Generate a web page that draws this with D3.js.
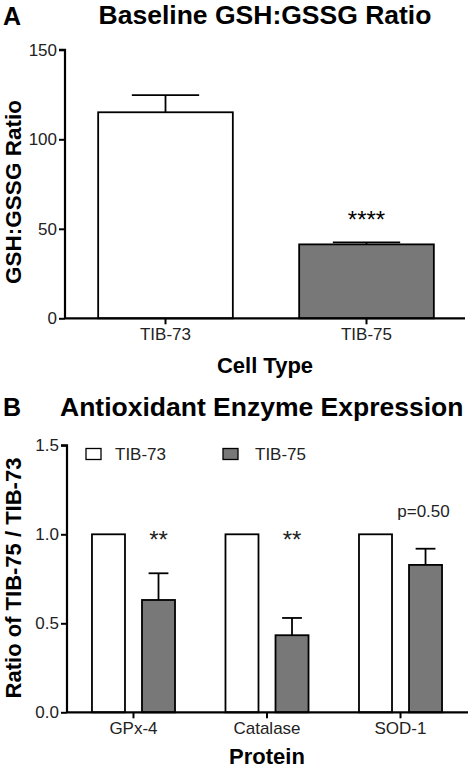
<!DOCTYPE html>
<html><head><meta charset="utf-8">
<script src="https://cdn.jsdelivr.net/npm/d3@7"></script>
<style>html,body{margin:0;padding:0;background:#fff;}svg{display:block;font-family:"Liberation Sans",Arial,sans-serif;}</style>
</head><body>
<script>
// Panel A data
const cellTypes = ["TIB-73", "TIB-75"];
const ratioMeans = [115.1, 41.3];
const ratioErrors = [9.6, 1.1];
const ratioSig = ["", "****"];
const ratioTicks = [0, 50, 100, 150];

// Panel B data
const proteins = ["GPx-4", "Catalase", "SOD-1"];
const groups = ["TIB-73", "TIB-75"];
const tib73Values = [1.0, 1.0, 1.0];
const tib75Values = [0.631, 0.433, 0.828];
const tib75Errors = [0.15, 0.097, 0.091];
const enzymeSig = ["**", "**", "p=0.50"];
const enzymeTicks = [0, 0.5, 1.0, 1.5];

const W = 476, H = 771;
const colors = {"TIB-73": "#ffffff", "TIB-75": "#787878"};
const svg = d3.select("body").append("svg").attr("width", W).attr("height", H);

// ---------- Panel A ----------
const xA = d3.scaleBand().domain(cellTypes).range([65, 467]).paddingInner(0.33).paddingOuter(0.165);
const yA = d3.scaleLinear().domain([0, 150]).range([318.3, 49.8]);
const gA = svg.append("g");

gA.append("text").attr("x", 3).attr("y", 25).attr("font-size", 25).attr("font-weight", "bold").text("A");
gA.append("text").attr("x", 265).attr("y", 24).attr("text-anchor", "middle").attr("font-size", 26.5).attr("font-weight", "bold").text("Baseline GSH:GSSG Ratio");

const dataA = cellTypes.map((c, i) => ({c, v: ratioMeans[i], e: ratioErrors[i], s: ratioSig[i]}));
gA.selectAll("rect.bar").data(dataA).join("rect").attr("class", "bar")
  .attr("x", d => xA(d.c)).attr("width", xA.bandwidth())
  .attr("y", d => yA(d.v)).attr("height", d => yA(0) - yA(d.v))
  .attr("fill", d => colors[d.c]).attr("stroke", "#000").attr("stroke-width", 1.8);
gA.selectAll("line.err").data(dataA).join("line").attr("class", "err")
  .attr("x1", d => xA(d.c) + xA.bandwidth() / 2).attr("x2", d => xA(d.c) + xA.bandwidth() / 2)
  .attr("y1", d => yA(d.v)).attr("y2", d => yA(d.v + d.e)).attr("stroke", "#000").attr("stroke-width", 1.8);
gA.selectAll("line.cap").data(dataA).join("line").attr("class", "cap")
  .attr("x1", d => xA(d.c) + xA.bandwidth() * 0.25).attr("x2", d => xA(d.c) + xA.bandwidth() * 0.75)
  .attr("y1", d => yA(d.v + d.e)).attr("y2", d => yA(d.v + d.e)).attr("stroke", "#000").attr("stroke-width", 1.8);
gA.selectAll("text.sig").data(dataA).join("text").attr("class", "sig")
  .attr("x", d => xA(d.c) + xA.bandwidth() / 2).attr("y", 228)
  .attr("text-anchor", "middle").attr("font-size", 24).text(d => d.s);

const axA = gA.append("g").attr("transform", "translate(65,0)")
  .call(d3.axisLeft(yA).tickValues(ratioTicks).tickFormat(d3.format("d")).tickSize(6).tickPadding(2));
const axAx = gA.append("g").attr("transform", `translate(0,${yA(0)})`)
  .call(d3.axisBottom(xA).tickSize(6).tickPadding(4));
[axA, axAx].forEach(a => {
  a.select(".domain").attr("stroke-width", 2.2);
  a.selectAll(".tick line").attr("stroke-width", 2);
  a.selectAll(".tick text").attr("font-size", 17).attr("fill", "#222").attr("font-family", "Liberation Sans, Arial, sans-serif");
});
axA.select(".domain").attr("d", `M-6,${yA(150)}H0V${yA(0)}`);
axAx.select(".domain").attr("d", "M65,0H465");
gA.append("text").attr("transform", "translate(21,192) rotate(-90)").attr("text-anchor", "middle")
  .attr("font-size", 22.5).attr("font-weight", "bold").text("GSH:GSSG Ratio");
gA.append("text").attr("x", 265).attr("y", 373).attr("text-anchor", "middle")
  .attr("font-size", 22).attr("font-weight", "bold").text("Cell Type");

// ---------- Panel B ----------
const xB = d3.scaleBand().domain(proteins).range([67, 467]).paddingInner(0.378).paddingOuter(0.187);
const xSub = d3.scaleBand().domain(groups).range([0, xB.bandwidth()]).paddingInner(0.34).paddingOuter(0);
const yB = d3.scaleLinear().domain([0, 1.5]).range([712.3, 445.3]);
const gB = svg.append("g");

gB.append("text").attr("x", 3).attr("y", 416).attr("font-size", 25).attr("font-weight", "bold").text("B");
gB.append("text").attr("x", 60).attr("y", 416).attr("font-size", 26.5).attr("font-weight", "bold").text("Antioxidant Enzyme Expression");

const dataB = [];
proteins.forEach((p, i) => {
  dataB.push({p, g: "TIB-73", v: tib73Values[i], e: 0});
  dataB.push({p, g: "TIB-75", v: tib75Values[i], e: tib75Errors[i]});
});
gB.selectAll("rect.bar").data(dataB).join("rect").attr("class", "bar")
  .attr("x", d => xB(d.p) + xSub(d.g)).attr("width", xSub.bandwidth())
  .attr("y", d => yB(d.v)).attr("height", d => yB(0) - yB(d.v))
  .attr("fill", d => colors[d.g]).attr("stroke", "#000").attr("stroke-width", 1.8);
const errB = dataB.filter(d => d.e > 0);
gB.selectAll("line.err").data(errB).join("line").attr("class", "err")
  .attr("x1", d => xB(d.p) + xSub(d.g) + xSub.bandwidth() / 2).attr("x2", d => xB(d.p) + xSub(d.g) + xSub.bandwidth() / 2)
  .attr("y1", d => yB(d.v)).attr("y2", d => yB(d.v + d.e)).attr("stroke", "#000").attr("stroke-width", 1.8);
gB.selectAll("line.cap").data(errB).join("line").attr("class", "cap")
  .attr("x1", d => xB(d.p) + xSub(d.g) + xSub.bandwidth() * 0.2).attr("x2", d => xB(d.p) + xSub(d.g) + xSub.bandwidth() * 0.8)
  .attr("y1", d => yB(d.v + d.e)).attr("y2", d => yB(d.v + d.e)).attr("stroke", "#000").attr("stroke-width", 1.8);
gB.selectAll("text.sig").data(proteins).join("text").attr("class", "sig")
  .attr("x", (d, i) => xB(d) + xSub("TIB-75") + xSub.bandwidth() / 2 + (i === 2 ? -2 : 0))
  .attr("y", (d, i) => i === 2 ? 517 : 548)
  .attr("text-anchor", "middle").attr("font-size", (d, i) => i === 2 ? 17 : 24).attr("fill", "#222")
  .text((d, i) => enzymeSig[i]);

const axB = gB.append("g").attr("transform", "translate(67,0)")
  .call(d3.axisLeft(yB).tickValues(enzymeTicks).tickFormat(d3.format(".1f")).tickSize(6).tickPadding(2));
const axBx = gB.append("g").attr("transform", `translate(0,${yB(0)})`)
  .call(d3.axisBottom(xB).tickSize(6).tickPadding(4));
[axB, axBx].forEach(a => {
  a.select(".domain").attr("stroke-width", 2.2);
  a.selectAll(".tick line").attr("stroke-width", 2);
  a.selectAll(".tick text").attr("font-size", 17).attr("fill", "#222").attr("font-family", "Liberation Sans, Arial, sans-serif");
});
axB.select(".domain").attr("d", `M-6,${yB(1.5)}H0V${yB(0)}`);
axBx.select(".domain").attr("d", "M67,0H468");

// Legend
const legX = [86, 223], legTextX = [115, 255];
const leg = gB.selectAll("g.leg").data(groups).join("g").attr("class", "leg");
leg.append("rect").attr("x", (d, i) => legX[i]).attr("y", 448.5).attr("width", 15).attr("height", 11)
  .attr("fill", d => colors[d]).attr("stroke", "#000").attr("stroke-width", 1.3);
leg.append("text").attr("x", (d, i) => legTextX[i]).attr("y", 459.5).attr("font-size", 17).attr("fill", "#222").text(d => d);

gB.append("text").attr("transform", "translate(21,578) rotate(-90)").attr("text-anchor", "middle")
  .attr("font-size", 22).attr("font-weight", "bold").text("Ratio of TIB-75 / TIB-73");
gB.append("text").attr("x", 267).attr("y", 764).attr("text-anchor", "middle")
  .attr("font-size", 22).attr("font-weight", "bold").text("Protein");
</script>
</body></html>
